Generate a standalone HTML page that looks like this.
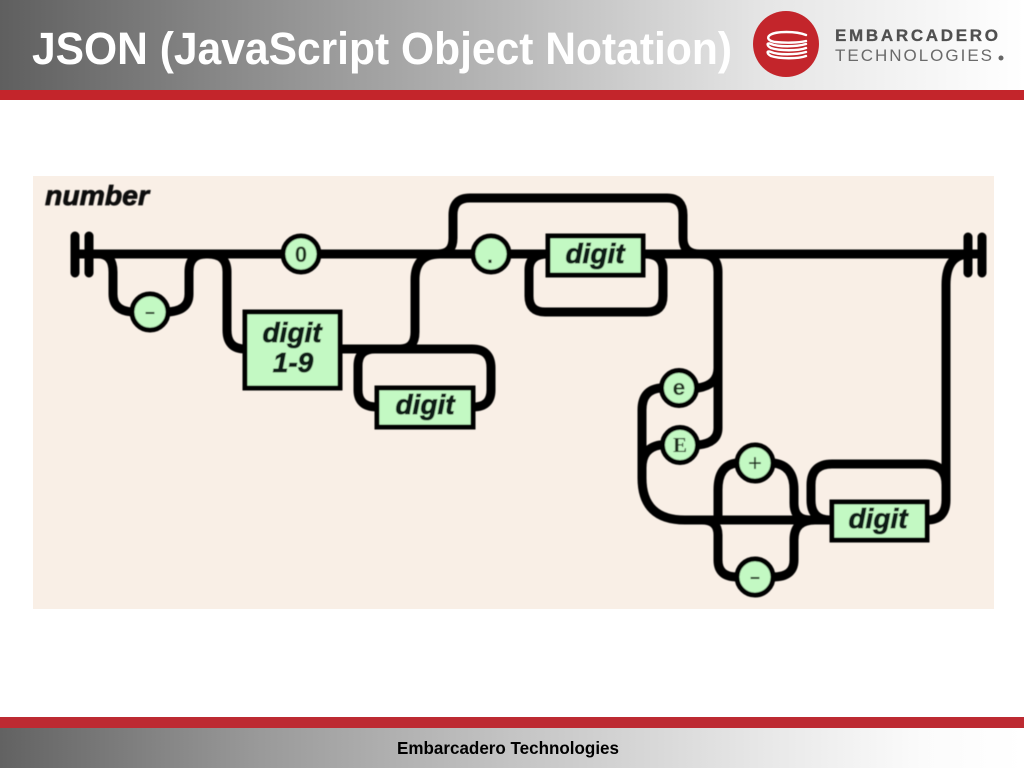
<!DOCTYPE html>
<html>
<head>
<meta charset="utf-8">
<style>
html,body{margin:0;padding:0;background:#fff;width:1024px;height:768px;overflow:hidden}
svg{display:block}
</style>
</head>
<body>
<svg width="1024" height="768" viewBox="0 0 1024 768" xmlns="http://www.w3.org/2000/svg" font-family="'Liberation Sans',sans-serif">
<defs>
<linearGradient id="hd" x1="0" x2="1" y1="0" y2="0">
<stop offset="0" stop-color="#5f5f5f"/>
<stop offset=".25" stop-color="#8e8e8e"/>
<stop offset=".5" stop-color="#b9b9b9"/>
<stop offset=".75" stop-color="#e6e6e6"/>
<stop offset="1" stop-color="#ffffff"/>
</linearGradient>
<linearGradient id="ft" x1="0" x2="1" y1="0" y2="0">
<stop offset="0" stop-color="#626262"/>
<stop offset=".25" stop-color="#999"/>
<stop offset=".5" stop-color="#c4c4c4"/>
<stop offset=".75" stop-color="#e8e8e8"/>
<stop offset=".9" stop-color="#fbfbfb"/>
<stop offset="1" stop-color="#ffffff"/>
</linearGradient>
<filter id="soft" filterUnits="userSpaceOnUse" x="0" y="0" width="1024" height="768"><feGaussianBlur stdDeviation="0.5"/></filter>
</defs>

<!-- header -->
<rect x="0" y="0" width="1024" height="90" fill="url(#hd)"/>
<rect x="0" y="90" width="1024" height="10" fill="#c3252b"/>
<text x="32" y="64" font-size="45" font-weight="bold" fill="#fff" textLength="700" lengthAdjust="spacingAndGlyphs">JSON (JavaScript Object Notation)</text>

<!-- logo -->
<circle cx="786" cy="44" r="33" fill="#c3252b"/>
<g fill="none" stroke="#fff" stroke-width="2.4" stroke-linecap="round">
<path d="M806 35 C796 31 776 31 770 35 C766 38 769 41 775 42 C785 43 798 43 806 41"/>
<path d="M806 44 C796 47 778 47 771 44 C766 42 767 46 771 48 C780 51 798 51 806 48"/>
<path d="M806 52 C796 55 778 55 771 52 C766 50 767 54 771 56 C780 59 798 59 806 56"/>
</g>
<text x="835" y="41" font-size="17" font-weight="bold" fill="#505050" stroke="#505050" stroke-width=".3" textLength="163" lengthAdjust="spacing">EMBARCADERO</text>
<text x="835" y="61" font-size="17" fill="#6a6a6a" textLength="157" lengthAdjust="spacing">TECHNOLOGIES</text>
<circle cx="1001" cy="58" r="2.5" fill="#666"/>

<!-- panel -->
<rect x="33" y="176" width="961" height="433" fill="#f9efe6"/>

<g filter="url(#soft)">
<text x="45" y="205" font-size="28" font-weight="bold" font-style="italic" fill="#111" stroke="#111" stroke-width=".8" textLength="104" lengthAdjust="spacingAndGlyphs">number</text>

<!-- rails -->
<g fill="none" stroke="#000" stroke-width="9" stroke-linecap="round" stroke-linejoin="round">
<path d="M75 236V273M89 236V273M968 237V273M982 237V273"/>
<path d="M75 254H982"/>
<path d="M98 254Q113 254 113 272V294Q113 312 135 312H165Q189 312 189 294V272Q189 254 206 254"/>
<path d="M208 254Q227 254 227 272V330Q227 349 245 349H400Q415 349 415 332V280Q415 254 440 254"/>
<path d="M345 349H375"/>
<path d="M375 349Q358 349 358 366V390Q358 407 377 407H473Q491 407 491 390V368Q491 349 472 349H400"/>
<path d="M438 254Q453 254 453 238V215Q453 198 470 198H667Q683 198 683 215V238Q683 254 700 254"/>
<path d="M548 254Q529 254 529 270V296Q529 312 545 312H647Q663 312 663 296V270Q663 254 645 254"/>
<path d="M700 254Q718 254 718 272V428Q718 443 698 445"/>
<path d="M698 388Q718 385 718 368"/>
<path d="M660 388Q642 390 642 410V478Q642 520 685 520H832"/>
<path d="M660 445Q642 448 642 468"/>
<path d="M718 520V490Q718 465 737 463"/>
<path d="M773 463Q794 465 794 490V503Q794 520 810 520"/>
<path d="M702 520Q718 520 718 535V560Q718 577 737 577"/>
<path d="M773 577Q794 577 794 560V540Q794 520 815 520"/>
<path d="M830 520Q811 520 811 500V485Q811 464 832 464H925Q946 464 946 485"/>
<path d="M927 520Q946 520 946 500V285Q946 254 970 254"/>
</g>

<!-- nodes -->
<g fill="#c3f9c3" stroke="#000" stroke-width="5">
<circle cx="301" cy="254" r="18"/>
<circle cx="150" cy="312" r="18"/>
<circle cx="491" cy="254" r="18"/>
<circle cx="679" cy="388" r="17.5"/>
<circle cx="680" cy="445" r="17.5"/>
<circle cx="755" cy="463" r="18"/>
<circle cx="755" cy="577" r="18"/>
<rect x="245" y="312" width="95" height="76"/>
<rect x="377" y="388" width="96" height="39"/>
<rect x="548" y="236" width="95" height="39"/>
<rect x="832" y="502" width="95" height="38"/>
</g>

<!-- labels -->
<g font-weight="bold" font-style="italic" font-size="28" fill="#0c1a12" text-anchor="middle" stroke="#0c1a12" stroke-width=".8">
<text x="292" y="342">digit</text>
<text x="293" y="372">1-9</text>
<text x="425" y="414">digit</text>
<text x="595" y="263">digit</text>
<text x="878" y="528">digit</text>
</g>
<g fill="#1f2f1f" text-anchor="middle" font-weight="bold">
<text x="301" y="262" font-size="22">0</text>
<text x="150" y="318" font-size="20" font-family="'Liberation Mono',monospace">–</text>
<text x="490" y="263" font-size="22" font-family="'Liberation Mono',monospace">.</text>
<text x="679" y="395" font-size="22" font-family="'Liberation Mono',monospace">e</text>
<text x="680" y="452" font-size="21" font-family="'Liberation Serif',serif">E</text>
<text x="755" y="471" font-size="24" font-weight="normal" font-family="'Liberation Mono',monospace">+</text>
<text x="755" y="583" font-size="20" font-family="'Liberation Mono',monospace">–</text>
</g>
</g>

<!-- footer -->
<rect x="0" y="728" width="1024" height="40" fill="url(#ft)"/>
<rect x="0" y="717" width="1024" height="11" fill="#bd2a32"/>
<text x="397" y="754" font-size="17.5" font-weight="bold" fill="#000" textLength="222" lengthAdjust="spacingAndGlyphs">Embarcadero Technologies</text>
</svg>
</body>
</html>
